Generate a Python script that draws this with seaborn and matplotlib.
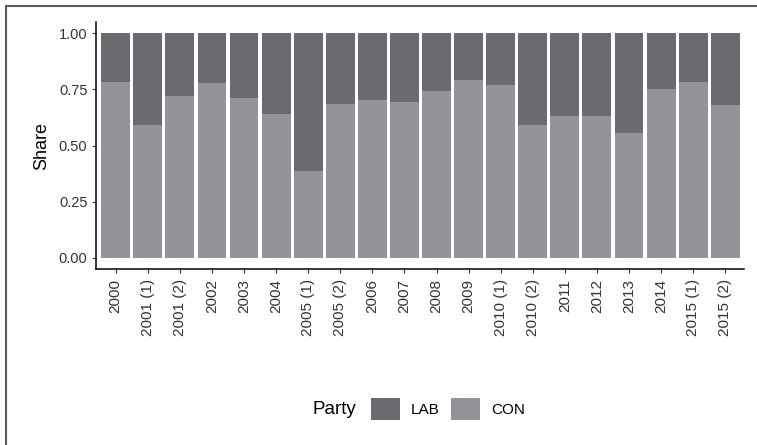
import matplotlib
matplotlib.use("Agg")
import matplotlib.pyplot as plt
from matplotlib.patches import Patch
from matplotlib.lines import Line2D
import seaborn as sns
import pandas as pd

# Election labels and each party's share of the two-party vote
elections = ["2000", "2001 (1)", "2001 (2)", "2002", "2003", "2004",
             "2005 (1)", "2005 (2)", "2006", "2007", "2008", "2009",
             "2010 (1)", "2010 (2)", "2011", "2012", "2013", "2014",
             "2015 (1)", "2015 (2)"]
con_share = [0.782, 0.591, 0.720, 0.778, 0.711, 0.640,
             0.387, 0.684, 0.702, 0.693, 0.742, 0.791,
             0.769, 0.591, 0.631, 0.631, 0.556, 0.751,
             0.782, 0.680]
lab_share = [0.218, 0.409, 0.280, 0.222, 0.289, 0.360,
             0.613, 0.316, 0.298, 0.307, 0.258, 0.209,
             0.231, 0.409, 0.369, 0.369, 0.444, 0.249,
             0.218, 0.320]
parties = ["LAB", "CON"]
yticks = [0.00, 0.25, 0.50, 0.75, 1.00]

LAB_COL = "#6b6b6f"
CON_COL = "#949498"
TXT = "#333333"

sns.set_style("ticks")
plt.rcParams["font.family"] = ["Liberation Sans", "DejaVu Sans"]

df = pd.DataFrame({"election": elections, "CON": con_share, "LAB": lab_share})
df["top"] = df["CON"] + df["LAB"]

W, H = 757, 445
fig = plt.figure(figsize=(W / 100, H / 100), dpi=100)
ax = fig.add_axes([96.5 / W, 1 - 269 / H, 648 / W, 247 / H])

# Stacked bars: LAB sits on top of CON
sns.barplot(data=df, x="election", y="top", color=LAB_COL, width=0.9,
            saturation=1, errorbar=None, ax=ax, linewidth=0)
sns.barplot(data=df, x="election", y="CON", color=CON_COL, width=0.9,
            saturation=1, errorbar=None, ax=ax, linewidth=0)

ax.set_xlim(-0.6, len(elections) - 0.4)
ax.set_ylim(-0.05, 1.05)
ax.set_yticks(yticks)
ax.set_yticklabels([f"{v:.2f}" for v in yticks])
ax.set_xlabel("")
ax.set_ylabel("Share", fontsize=13, color="black", labelpad=6)

for s in ["top", "right"]:
    ax.spines[s].set_visible(False)
for s in ["left", "bottom"]:
    ax.spines[s].set_color("black")
    ax.spines[s].set_linewidth(1.1)

ax.tick_params(axis="y", labelsize=10.5, colors=TXT, length=3, width=0.8, pad=3.5)
ax.tick_params(axis="x", labelsize=11, colors=TXT, length=3, width=0.8, pad=4,
               labelrotation=90)
ax.tick_params(axis="both", color="#333333")

# Legend along the bottom, centred under the panel
legend_y = 1 - 409 / H
fig.text(313 / W, legend_y, "Party", fontsize=13.5, color="black",
         ha="left", va="center")
handles = [Patch(facecolor=LAB_COL, edgecolor="none"),
           Patch(facecolor=CON_COL, edgecolor="none")]
fig.legend(handles=handles, labels=parties, ncol=2, loc="center left",
           bbox_to_anchor=(371 / W, legend_y), frameon=False, fontsize=11,
           handlelength=1.9, handleheight=1.9, handletextpad=0.72,
           columnspacing=0.72, borderpad=0, borderaxespad=0,
           labelcolor="black")

# Outer frame on the left and top edges
fig.add_artist(Line2D([5.5 / W, 5.5 / W], [0, 1 - 5.5 / H],
                      transform=fig.transFigure, color="#5a5a5a", lw=1.5))
fig.add_artist(Line2D([5.5 / W, 1], [1 - 5.5 / H, 1 - 5.5 / H],
                      transform=fig.transFigure, color="#5a5a5a", lw=1.5))

fig.savefig("out.png", dpi=100)
